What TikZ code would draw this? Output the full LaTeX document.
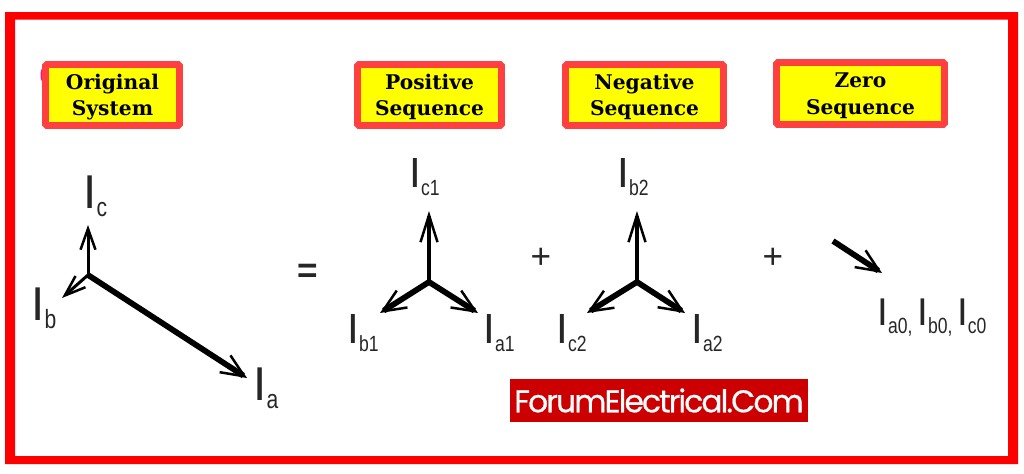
\documentclass[tikz,border=0pt]{standalone}
\usepackage{fontspec}
\usepackage{graphicx}
\usepackage{tikz}
\usetikzlibrary{arrows.meta}
\setsansfont{Liberation Sans}
\newfontfamily\titlefont{DejaVu Serif}
\newfontfamily\markfont[LetterSpace=-6,FakeBold=0.6]{Poppins}
\definecolor{framered}{RGB}{255,0,0}
\definecolor{boxred}{RGB}{255,64,64}
\definecolor{boxyellow}{RGB}{255,255,0}
\definecolor{pinkmark}{RGB}{240,20,130}
\definecolor{markred}{RGB}{204,0,0}

\newcommand{\cur}[3]{{\fontsize{#1}{#1}\selectfont I}\raisebox{-1.7mm}{\scalebox{1}[1.25]{\fontsize{#2}{#2}\selectfont #3}}}

\begin{document}
\begin{tikzpicture}
 [x=0.2mm,y=-0.2mm,
  title node/.style={draw=boxred,line width=1.35mm,fill=boxyellow,rounded corners=0.3mm,inner sep=0pt,
    minimum height=12.2mm,align=center,text height=26pt,text depth=2.5pt,
    font=\titlefont\bfseries\fontsize{11.5}{15}\selectfont},
  label node/.style={inner sep=0pt,anchor=base west,font=\sffamily,text=black!85},
  sign node/.style={inner sep=0pt,font=\sffamily\fontsize{20}{20}\selectfont,text=black!85},
  phasor/.style={-{Straight Barb[length=4.6mm,width=4mm,line width=0.5mm]},line width=1.15mm},
  up phasor/.style={-{Straight Barb[length=5.4mm,width=3.4mm,line width=0.5mm]},line width=0.8mm},
  thin phasor/.style={-{Straight Barb[length=4.2mm,width=3mm,line width=0.5mm]},line width=0.6mm}]

\useasboundingbox (0,0) rectangle (1024,474);
\fill[white] (0,0) rectangle (1024,474);
\fill[framered,even odd rule] (5,12) rectangle (1018,464) (15,19.5) rectangle (1008,456);

% small pink mark behind first title
\fill[pinkmark] (43,75) ellipse (2.5 and 7);

\node[title node,minimum width=26.8mm] (orig) at (112.5,95) {Original\\System};
\node[title node,minimum width=28.8mm] (pos) at (429.5,95) {Positive\\Sequence};
\node[title node,minimum width=31.6mm] (neg) at (644.5,95) {Negative\\Sequence};
\node[title node,minimum width=33.6mm,minimum height=12.4mm] (zero) at (860.5,93.5) {Zero\\Sequence};

% original system
\coordinate (o0) at (88,275);
\coordinate (oa) at (247,378);
\coordinate (ob) at (62,298);
\coordinate (oc) at (88,225);
\node[label node] (Ic) at (83,208) {\cur{27}{12}{c}};
\node[label node] (Ib) at (31,320) {\cur{27}{12}{b}};
\node[label node] (Ia) at (253,400) {\cur{27}{12}{a}};

% positive sequence
\coordinate (p0) at (429,282);
\coordinate (pa) at (478,313);
\coordinate (pb) at (380,313);
\coordinate (pc) at (429,211);
\node[label node] (Ic1) at (409,187) {\cur{24}{10}{c1}};
\node[label node] (Ib1) at (347,343) {\cur{24}{10}{b1}};
\node[label node] (Ia1) at (483,343) {\cur{24}{10}{a1}};

% negative sequence
\coordinate (n0) at (637,282);
\coordinate (na) at (685,313);
\coordinate (nb) at (587,313);
\coordinate (nc) at (637,211);
\node[label node] (Ib2) at (617,187) {\cur{24}{10}{b2}};
\node[label node] (Ic2) at (556,343) {\cur{24}{10}{c2}};
\node[label node] (Ia2) at (691,343) {\cur{24}{10}{a2}};

% zero sequence
\coordinate (z0) at (833,241);
\coordinate (za) at (882,273);
\node[label node] (I0) at (877,325) {\cur{22}{10}{a0,\kern2.7pt}\cur{22}{10}{b0,\kern2.7pt}\cur{22}{10}{c0}};

\draw[phasor] (o0) -- (oa);
\draw[thin phasor] (o0) -- (oc);
\draw[thin phasor] (o0) -- (ob);
\foreach \s in {p,n}{
  \draw[phasor] (\s0) -- (\s a);
  \draw[phasor] (\s0) -- (\s b);
  \draw[up phasor] (\s0) -- (\s c);
}
\draw[phasor] (z0) -- (za);

\node[sign node,font=\sffamily\bfseries\fontsize{20}{20}\selectfont] (eq) at (307.5,273) {=};
\node[sign node] (plus1) at (541,258) {+};
\node[sign node] (plus2) at (773,258) {+};

\node[fill=markred,text=white,inner sep=0pt,minimum width=59.6mm,minimum height=8.6mm,
  font=\markfont\fontsize{17.8}{18}\selectfont] (mark) at (659,400.5) {ForumElectrical.Com};
\end{tikzpicture}
\end{document}
